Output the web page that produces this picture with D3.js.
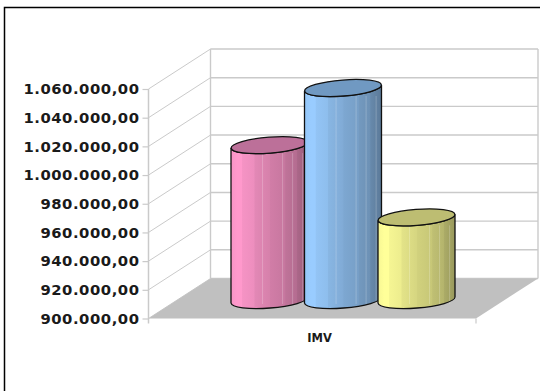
<!DOCTYPE html>
<html>
<head>
<meta charset="utf-8">
<script src="https://cdn.jsdelivr.net/npm/d3@7"></script>
<style>
html,body{margin:0;padding:0;background:#fff;overflow:hidden}
svg{display:block}
</style>
</head>
<body>
<div id="chart"></div>
<script>
const category = "IMV";
const series = ["A", "B", "C"];
const values = [1008000, 1047800, 957600];
const tickValues = [900000, 920000, 940000, 960000, 980000, 1000000, 1020000, 1040000, 1060000];
const sideColors = ["#ff99cc", "#99ccff", "#ffff99"];
const topColors = ["#bc7099", "#7099c2", "#bdbd72"];
const shadeStops = [[0,.97],[.08,1],[.14,1],[.15,.96],[.3,.93],[.31,.89],[.5,.84],[.51,.82],[.7,.78],[.71,.75],[.85,.71],[.86,.67],[1,.6]];
const highlightOffsets = [.41, .67, .8, .93];

const width = 540, height = 391;
const svg = d3.select("#chart").append("svg").attr("width", width).attr("height", height);
const defs = svg.append("defs");

// frame
svg.append("path").attr("d", "M4.5,391V7.5H540").attr("fill", "none").attr("stroke", "#000").attr("stroke-width", 1.5);

const x0 = 148.5, x1 = 476;
const dx = 62, dy = -40;
const y = d3.scaleLinear().domain([900000, 1060000]).range([318.5, 89]);
const xCat = d3.scalePoint().domain(series).range([269.5, 416.5]);
const baseDy = -18.5, rx = 38.5, ry = 8, tilt = -4.5;
const grid = "#cacaca";

const g = svg.append("g");

// back wall grid + side wall grid
tickValues.forEach(v => {
  g.append("line").attr("x1", x0 + dx).attr("x2", x1 + dx).attr("y1", y(v) + dy).attr("y2", y(v) + dy)
    .attr("stroke", grid).attr("stroke-width", 1.4);
  g.append("line").attr("x1", x0).attr("x2", x0 + dx).attr("y1", y(v)).attr("y2", y(v) + dy)
    .attr("stroke", grid).attr("stroke-width", 1);
});
g.append("line").attr("x1", x0 + dx).attr("x2", x0 + dx).attr("y1", y(900000) + dy).attr("y2", y(1060000) + dy)
  .attr("stroke", grid).attr("stroke-width", 1.4);
g.append("line").attr("x1", x1 + dx).attr("x2", x1 + dx).attr("y1", y(900000) + dy).attr("y2", y(1060000) + dy)
  .attr("stroke", grid).attr("stroke-width", 1.4);

// floor
g.append("path")
  .attr("d", d3.line()([[x0, y(900000)], [x0 + dx, y(900000) + dy], [x1 + dx, y(900000) + dy], [x1, y(900000)]]) + "Z")
  .attr("fill", "#c0c0c0");
g.append("line").attr("x1", x1).attr("x2", x1).attr("y1", y(900000)).attr("y2", y(900000) + 5)
  .attr("stroke", grid).attr("stroke-width", 1.2);

// value axis
const fmt = d3.formatLocale({decimal: ",", thousands: ".", grouping: [3], currency: ["", ""]}).format(",.2f");
const axis = d3.axisLeft(y).tickValues(tickValues).tickFormat(fmt).tickSize(6).tickPadding(3);
const ax = svg.append("g").attr("transform", `translate(${x0},0)`).call(axis);
ax.select(".domain").attr("stroke", grid).attr("stroke-width", 1.5).attr("d", `M0,${y(1060000)}V${y(900000) + 5}`);
ax.selectAll(".tick line").attr("stroke", grid).attr("stroke-width", 1.2);
ax.selectAll("text")
  .attr("font-family", "'DejaVu Sans', Verdana, sans-serif")
  .attr("font-weight", "bold").attr("font-size", 14.8).attr("letter-spacing", 0.55).attr("fill", "#1a1a1a");

// category label
svg.append("text").attr("x", 319.5).attr("y", 342).attr("text-anchor", "middle")
  .attr("font-family", "'DejaVu Sans', Verdana, sans-serif").attr("font-weight", "bold")
  .attr("font-size", 11.5).attr("fill", "#1a1a1a").text(category);

// cylinders
function tiltY(dxv) { return dxv * Math.tan(tilt * Math.PI / 180); }
series.forEach((s, i) => {
  const cx = xCat(s), yTop = y(values[i]) + baseDy, yBase = y(900000) + baseDy;
  const base = d3.color(sideColors[i]);
  const grad = defs.append("linearGradient").attr("id", "cyl" + i)
    .attr("x1", "0").attr("x2", "1").attr("y1", "0").attr("y2", "0");
  shadeStops.forEach(([o, f]) => {
    grad.append("stop").attr("offset", o)
      .attr("stop-color", d3.rgb(base.r * f, base.g * f, base.b * f).formatHex());
  });
  const lx = cx - rx, rxx = cx + rx, ty = tiltY(rx);
  const arc = (sweep, tx, tyv) => `A${rx},${ry} ${tilt} 0 ${sweep} ${tx},${tyv}`;
  const body = `M${lx},${yTop - ty}` + arc(0, rxx, yTop + ty) + `L${rxx},${yBase + ty}` + arc(1, lx, yBase - ty) + "Z";
  const c = svg.append("g");
  c.append("path").attr("d", body).attr("fill", `url(#cyl${i})`);
  highlightOffsets.forEach(o => {
    const hx = lx + o * 2 * rx;
    c.append("line").attr("x1", hx).attr("x2", hx).attr("y1", yTop + 8).attr("y2", yBase + 4)
      .attr("stroke", "#fff").attr("stroke-opacity", .22).attr("stroke-width", 1);
  });
  c.append("path").attr("d", body).attr("fill", "none").attr("stroke", "#111").attr("stroke-width", 1.3);
  c.append("ellipse").attr("cx", cx).attr("cy", yTop).attr("rx", rx).attr("ry", ry)
    .attr("transform", `rotate(${tilt} ${cx} ${yTop})`)
    .attr("fill", topColors[i]).attr("stroke", "#111").attr("stroke-width", 1.3);
});
</script>
</body>
</html>
